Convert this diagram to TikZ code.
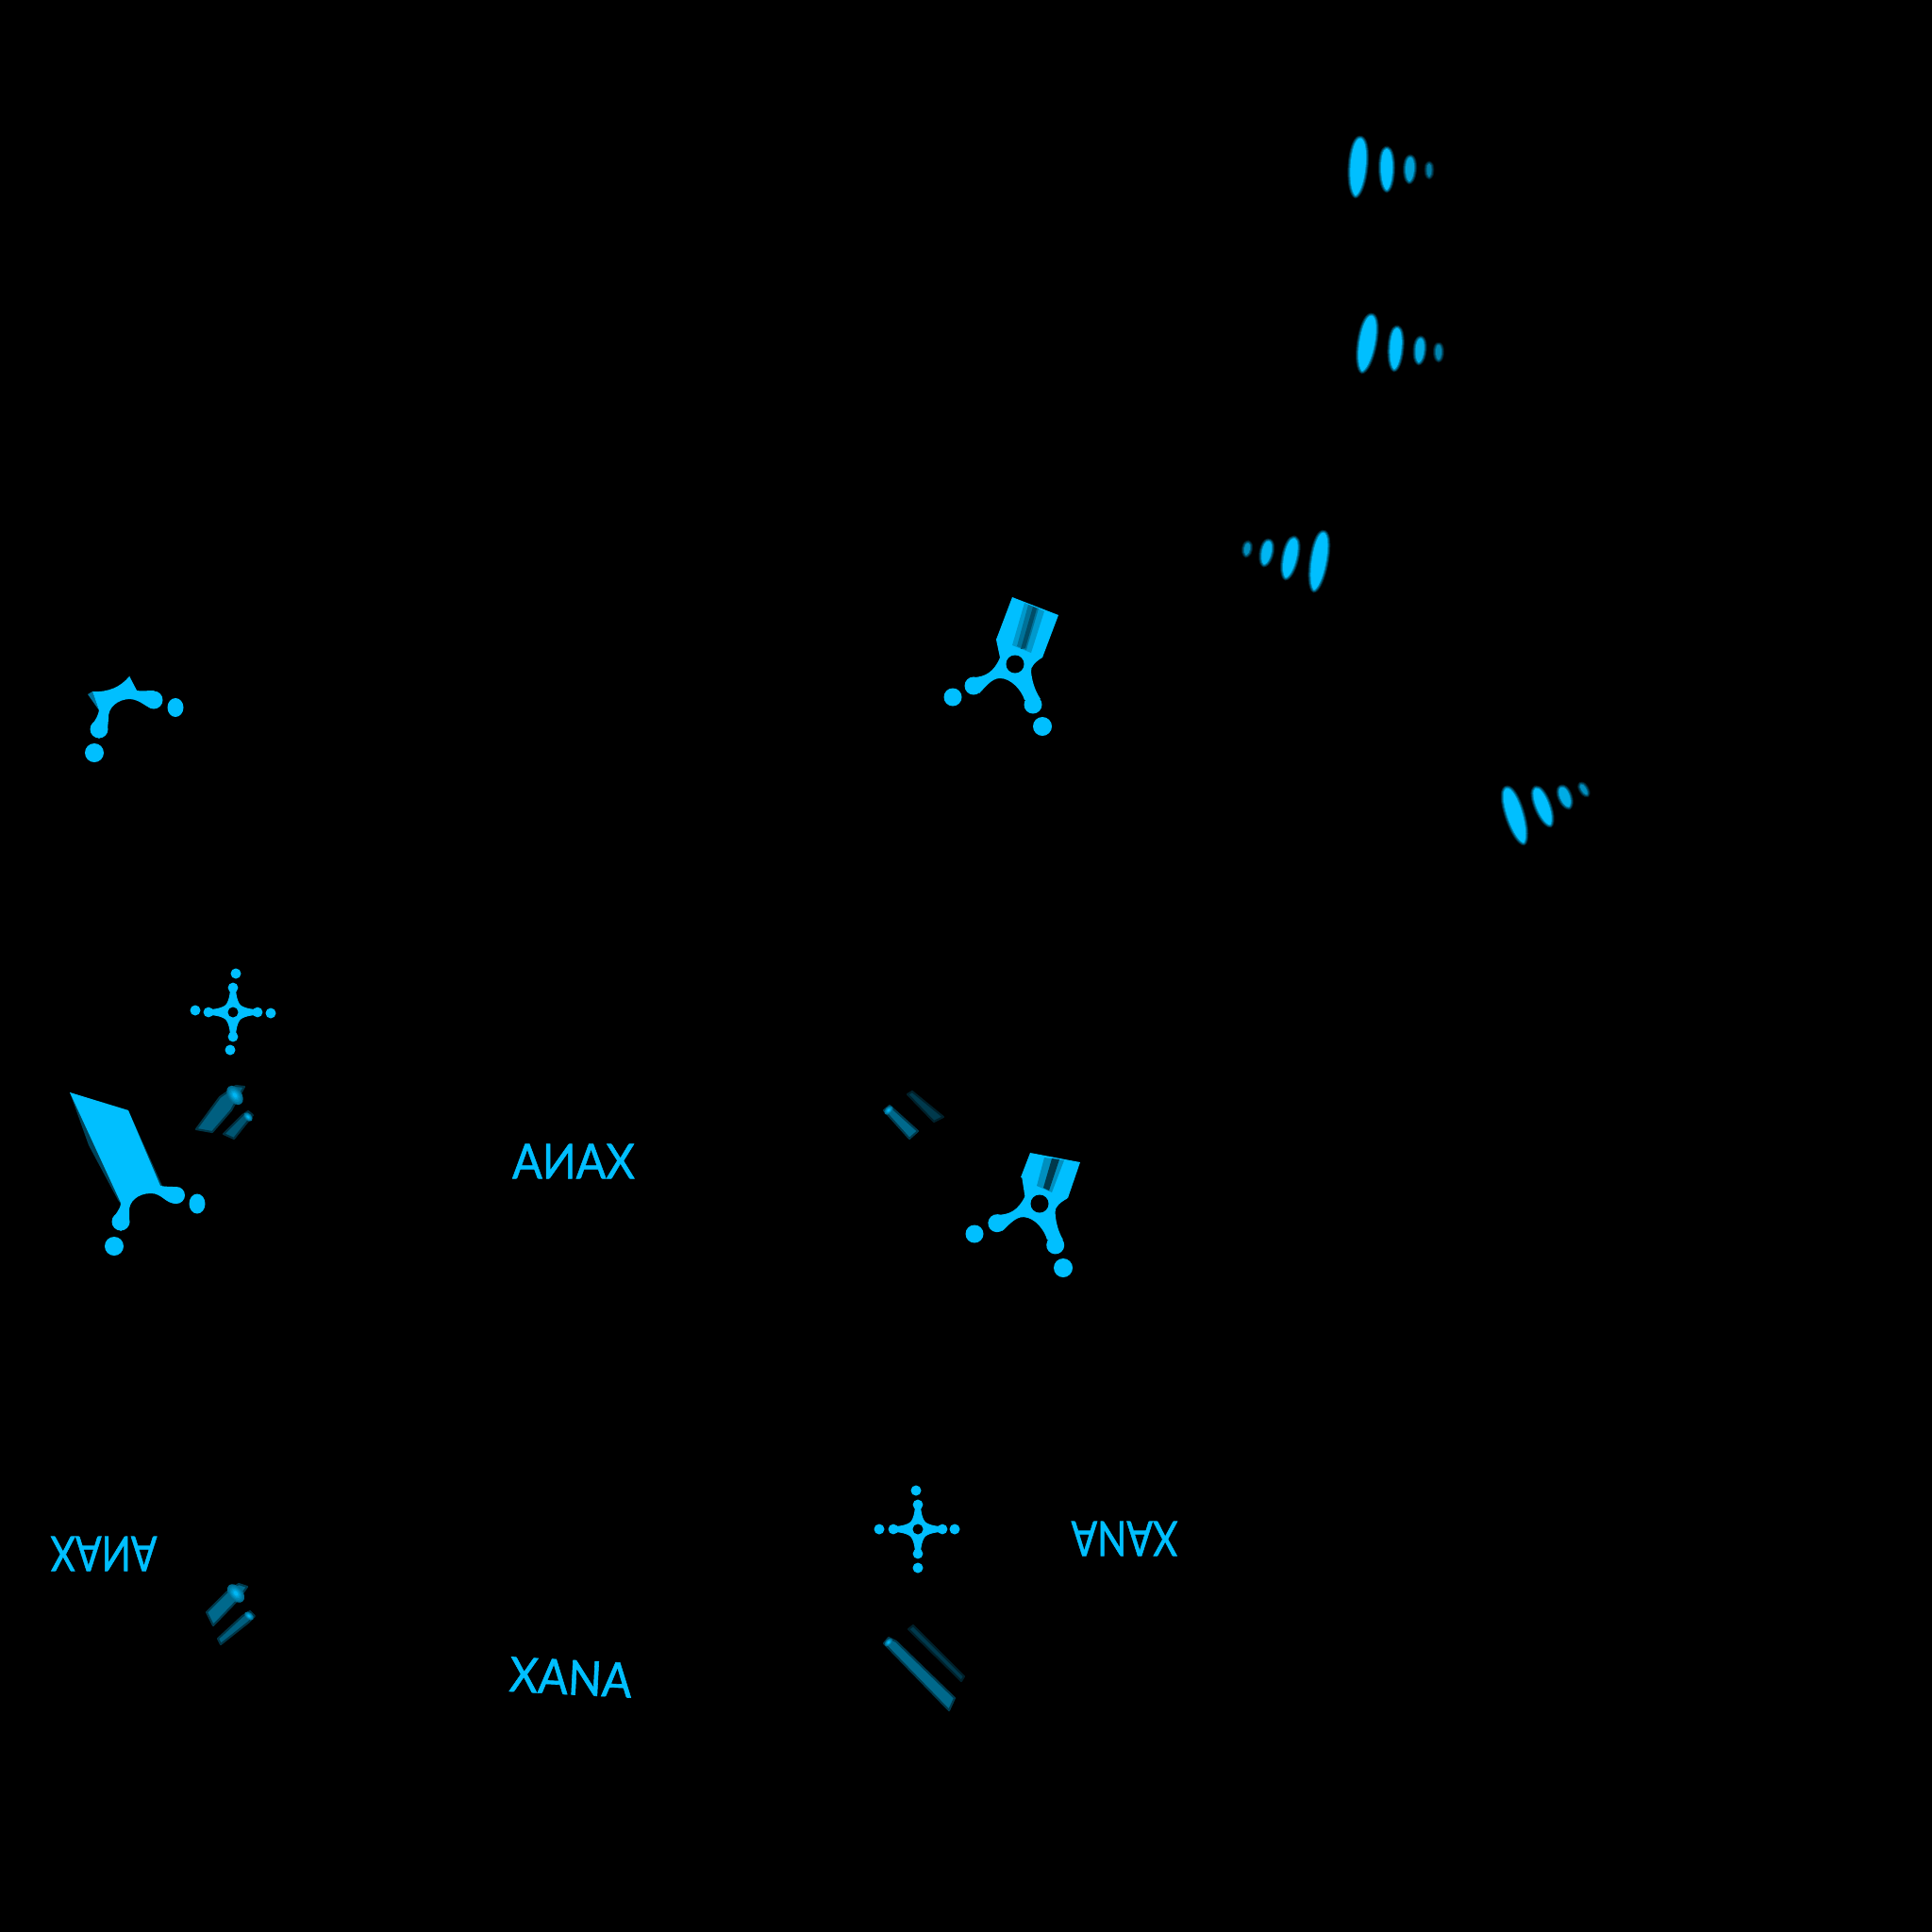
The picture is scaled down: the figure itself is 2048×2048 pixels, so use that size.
\documentclass[tikz,border=0pt]{standalone}
\usepackage{fontspec}
\setmainfont{Lato}
\newfontfamily\wordfont[FakeBold=1.2]{Lato}
\usetikzlibrary{calc}

\begin{document}
\begin{tikzpicture}[x=0.01cm,y=-0.01cm]
\definecolor{skyglow}{HTML}{00BFFF}
\tikzset{glyph/.style={fill=skyglow,draw=none}};
\tikzset{hole/.style={fill=black,draw=none}};
\tikzset{word/.style={text=skyglow,inner sep=0pt,transform shape,font=\fontsize{14.5}{14.5}\wordfont}};
\tikzset{dimbody/.style={fill=skyglow!#1!black,draw=skyglow!#1!black!55!black,line width=.6pt,line join=round}};

\pgfmathsetmacro{\dotsize}{9.5};
\pgfmathsetmacro{\crossdot}{5.5};

\fill [black] (0,0) rectangle (2048,2048);

% soft strokes
\foreach \xa/\ya/\xb/\yb/\lw/\lc in {
  1442/147/1437/207/15/100, 1470/158/1470/201/11/100, 1495/167/1494/192/8/85, 1515/174/1515/187/4/65,
  1454/335/1444/393/15/100, 1481/348/1478/391/11/100, 1506/359/1504/384/8/90, 1525/366/1525/381/5/70,
  1403/565/1393/625/14/100, 1372/571/1363/612/12/100, 1345/574/1340/598/9/95, 1323/576/1321/588/5/75,
  1597/836/1615/893/15/100, 1628/836/1643/874/12/100, 1655/835/1663/855/9/90, 1676/832/1682/842/4/75}
{
  \coordinate (a) at (\xa,\ya);
  \coordinate (b) at (\xb,\yb);
  \pgfmathsetmacro{\lo}{\lw*0.1897};
  \foreach \gw/\gc in {7/20,5/45,3/70,1/100} {
    \pgfmathtruncatemacro{\gv}{\gc*\lc/100};
    \fill [color=skyglow!\gv!black,draw,line width=\gw*.2845pt,line join=round]
      (a) .. controls ($(a)!.03!(b)!\lo pt!90:(b)$) and ($(a)!.85!(b)!\lo pt!90:(b)$) .. (b)
          .. controls ($(a)!.85!(b)!\lo pt!-90:(b)$) and ($(a)!.03!(b)!\lo pt!-90:(b)$) .. (a) -- cycle;
  }
}

% keys with a hub
\foreach \hx/\hy/\hr in {1076/704/0,1102/1276/-3} {
  \begin{scope}[shift={(\hx,\hy)},rotate=\hr]
    \fill [glyph] (-45,14) .. controls (-32,14) and (-22,8) .. (-16,-7) -- (-20,-26) -- (-10,-40) -- (30,-25) -- (29,-7)
      .. controls (22,-3) and (16,3) .. (17,8)
      .. controls (18,18) and (21,28) .. (27,37) -- (10,38)
      .. controls (7,28) and (-4,15) .. (-16,15)
      .. controls (-25,15) and (-32,25) .. (-38,31) -- cycle;
    \fill [glyph] (-44,23) circle (\dotsize);
    \fill [glyph] (19,43) circle (\dotsize);
  \end{scope}
}
\fill [glyph] (1073,633) -- (1122,652) -- (1105,697) -- (1056,678) -- cycle;
\fill [skyglow!80!black] (1086,639) -- (1107,648) -- (1093,692) -- (1073,684) -- cycle;
\fill [skyglow!60!black] (1090,641) -- (1101,645) -- (1088,689) -- (1078,685) -- cycle;
\fill [skyglow!40!black] (1095,643) -- (1099,645) -- (1087,687) -- (1082,688) -- cycle;
\fill [hole] (1076,704) circle (9.5);

\fill [glyph] (1092,1222) -- (1145,1232) -- (1132,1270) -- (1082,1248) -- cycle;
\fill [skyglow!75!black] (1107,1227) -- (1128,1230) -- (1115,1264) -- (1099,1257) -- cycle;
\fill [skyglow!30!black] (1115,1228) -- (1123,1229) -- (1112,1262) -- (1106,1259) -- cycle;
\fill [hole] (1102,1276) circle (9.5);

\fill [glyph] (1010,739) circle (\dotsize);
\fill [glyph] (1105,770) circle (10);
\fill [glyph] (1033,1308) circle (\dotsize);
\fill [glyph] (1127,1344) circle (10);

% blade
\fill [skyglow!35!black] (74,1158) -- (94,1214) -- (125,1272) -- (128,1276) -- (172,1257) -- (136,1177) -- cycle;
\fill [glyph] (74,1158) -- (136,1177) -- (170,1257)
  .. controls (176,1258) and (182,1258) .. (187,1258) -- (196,1267) -- (187,1276)
  .. controls (175,1276) and (172,1265) .. (160,1265)
  .. controls (146,1265) and (136,1274) .. (137,1285)
  -- (137,1297) -- (128,1305) -- (119,1295)
  .. controls (120,1288) and (128,1283) .. (128,1275) -- cycle;
\fill [glyph] (187,1267) circle (9);
\fill [glyph] (128,1295) circle (9.5);
\fill [glyph] (209,1276) ellipse (8.5 and 10.5);
\fill [glyph] (121,1321) circle (10);

% corner piece
\fill [skyglow!60!black] (93,736) -- (98,733) -- (105,753) -- cycle;
\fill [skyglow!60!black] (137,716) -- (145,732) -- (138,732) -- cycle;
\fill [glyph] (98,733) .. controls (115,734) and (128,728) .. (137,717) -- (145,732)
  .. controls (150,733) and (156,732) .. (163,732) -- (172,742) -- (163,751)
  .. controls (155,751) and (150,742) .. (138,741)
  .. controls (125,741) and (114,750) .. (115,762)
  -- (114,773) -- (105,783) -- (96,773)
  .. controls (97,767) and (103,763) .. (105,753) -- cycle;
\fill [glyph] (163,742) circle (9.5);
\fill [glyph] (105,773) circle (9.5);
\fill [glyph] (186,750) ellipse (8.5 and 10);
\fill [glyph] (100,798) circle (10);

% crosses
\foreach \hx/\hy in {247/1073,973/1621} {
  \foreach \turn in {0,90,180,270} {
    \begin{scope}[shift={(\hx,\hy)},rotate=\turn]
      \fill [glyph] (-15,-3.5) .. controls (-7,-5) and (-4,-12) .. (-3,-24) -- (3,-24)
        .. controls (4,-12) and (7,-5) .. (15,-3.5) -- (0,10) -- cycle;
      \fill [glyph] (0,-26) circle (5.4);
    \end{scope}
  }
  \fill [glyph] (\hx,\hy) circle (10.5);
  \fill [hole] (\hx,\hy) circle (5.5);
}
\foreach \dx/\dy in {250/1032,207/1071,287/1074,244/1113,971/1580,932/1621,1012/1621,973/1662} {
  \fill [glyph] (\dx,\dy) circle (\crossdot);
}

% dim bullets
\fill [dimbody=50] (208,1197) -- (233,1163) -- (250,1151) -- (259,1152) -- (245,1177) -- (225,1200) -- cycle;
\fill [dimbody=45] (237,1202) -- (257,1182) -- (263,1178) -- (268,1182) -- (260,1192) -- (248,1207) -- cycle;
\fill [dimbody=55] (219,1709) -- (240,1688) -- (253,1679) -- (262,1682) -- (253,1695) -- (226,1723) -- cycle;
\fill [dimbody=50] (231,1737) -- (257,1713) -- (265,1708) -- (270,1713) -- (263,1720) -- (234,1743) -- cycle;
\fill [dimbody=55] (937,1177) -- (943,1172) -- (973,1199) -- (964,1207) -- cycle;
\fill [dimbody=30] (962,1160) -- (967,1157) -- (1000,1184) -- (990,1189) -- cycle;
\fill [dimbody=55] (937,1742) -- (942,1736) -- (950,1740) -- (1012,1800) -- (1006,1813) -- cycle;
\fill [dimbody=30] (963,1727) -- (968,1723) -- (1022,1777) -- (1019,1782) -- cycle;

\foreach \tx/\ty/\tr/\tz in {
  249/1161/9/-55, 263/1184/4.5/-45, 250/1689/9/-50, 264/1713/4.5/-40,
  942/1177/4.5/45, 942/1741/4/45} {
  \foreach \fk/\ck in {1/55,.85/62,.7/70,.55/78,.4/87,.25/96} {
    \fill [skyglow!\ck!black,rotate around={\tz:(\tx,\ty)}] (\tx,\ty) ellipse (\tr*\fk*1.25 and \tr*\fk*.8);
  }
}

\node [word,xscale=-.92] (wordmirror) at (608,1231) {XANA};
\node [word,yscale=-1,xscale=.8] (wordflip) at (110,1647) {XANA};
\node [word,rotate=180,xscale=.8] (wordturn) at (1192,1631) {XANA};
\node [word,rotate=-3,xscale=.92] (wordplain) at (605,1778) {XANA};
\end{tikzpicture}
\end{document}
